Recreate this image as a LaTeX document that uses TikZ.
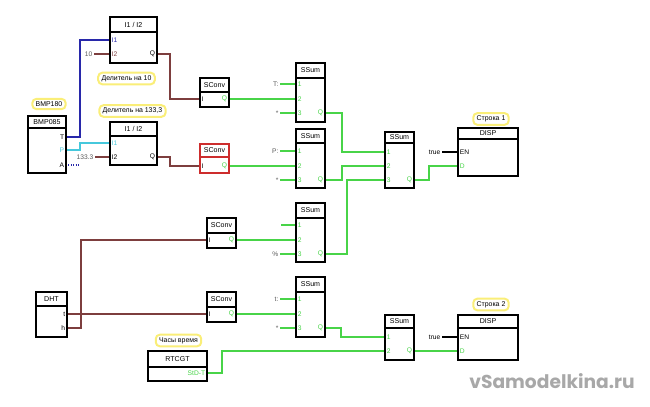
\documentclass[tikz,border=0pt]{standalone}
\usepackage{fontspec}
\setmainfont{Liberation Sans}
\newfontfamily\wmfont{Poppins}
\usetikzlibrary{fit}
\definecolor{wbrown}{RGB}{125,62,62}
\definecolor{wgreen}{RGB}{72,212,72}
\definecolor{wblue}{RGB}{40,40,170}
\definecolor{wcyan}{RGB}{70,200,220}
\definecolor{lyel}{RGB}{250,238,120}
\definecolor{bred}{RGB}{205,45,45}
\definecolor{wmgray}{RGB}{168,168,168}
\definecolor{lblgray}{RGB}{90,90,90}
\tikzset{
  blk/.style={draw, line width=1.1pt, inner sep=0pt, fill=white},
  blkline/.style={line width=1.1pt},
  ttl/.style={font=\fontsize{5.3}{6}\selectfont, text=black, inner sep=0pt},
  pinl/.style={font=\fontsize{5}{5}\selectfont, inner sep=1.2pt},
  yl/.style={draw=lyel, line width=1.5pt, rounded corners=3pt, fill=white, inner xsep=2.5pt, inner ysep=2pt, font=\fontsize{5.2}{6}\selectfont},
  brw/.style={draw=wbrown, line width=0.8pt},
  grw/.style={draw=wgreen, line width=1.3pt},
  inl/.style={font=\fontsize{5}{5}\selectfont, text=lblgray, inner sep=1pt, anchor=east},
}
\newcommand\fblk[8]{%
  \coordinate (#1-nw) at (#2,#3);
  \coordinate (#1-se) at (#4,#6);
  \node[blk, draw=#8, fit=(#1-nw)(#1-se)] (#1) {};
  \draw[blkline, draw=#8] (#2,#5) -- (#4,#5);
  \node[ttl] (#1-t) at ({(#2+#4)/2},{(#3+#5)/2}) {#7};
}
\newcommand\pinL[5]{\coordinate (#1) at (#2,#3); \node[pinl, anchor=west, text=#5] (#1-l) at (#2,#3) {#4};}
\newcommand\pinR[5]{\coordinate (#1) at (#2,#3); \node[pinl, anchor=east, text=#5] (#1-l) at (#2,#3) {#4};}
\begin{document}
\begin{tikzpicture}[x=0.75pt,y=-0.75pt]
\useasboundingbox (0,0) rectangle (650,407);

% ---------- wires (drawn first) ----------
\coordinate (bT) at (66,137);
\coordinate (bP) at (66,150);
\coordinate (bA) at (66,165);
\coordinate (d1I1) at (110,40);
\coordinate (d1I2) at (110,54);
\coordinate (d1Q) at (157,54);
\coordinate (d2I1) at (110,143);
\coordinate (d2I2) at (110,157);
\coordinate (d2Q) at (157,157);
\coordinate (c1I) at (200,99);   \coordinate (c1Q) at (229,99);
\coordinate (c2I) at (200,166);  \coordinate (c2Q) at (229,166);
\coordinate (c3I) at (207,240);  \coordinate (c3Q) at (236,240);
\coordinate (c4I) at (207,314);  \coordinate (c4Q) at (236,314);
\coordinate (s1a) at (296,84); \coordinate (s1b) at (296,99); \coordinate (s1c) at (296,113); \coordinate (s1Q) at (325,113);
\coordinate (s2a) at (296,151); \coordinate (s2b) at (296,166); \coordinate (s2c) at (296,180); \coordinate (s2Q) at (325,180);
\coordinate (s3a) at (385,152); \coordinate (s3b) at (385,166); \coordinate (s3c) at (385,180); \coordinate (s3Q) at (414,180);
\coordinate (s4a) at (296,225); \coordinate (s4b) at (296,240); \coordinate (s4c) at (296,254); \coordinate (s4Q) at (325,254);
\coordinate (s5a) at (296,299); \coordinate (s5b) at (296,314); \coordinate (s5c) at (296,328); \coordinate (s5Q) at (325,328);
\coordinate (s6a) at (385,337); \coordinate (s6b) at (385,351); \coordinate (s6Q) at (414,351);
\coordinate (hT) at (67,314); \coordinate (hH) at (67,328);
\coordinate (rQ) at (207,373);
\coordinate (p1EN) at (458,152); \coordinate (p1D) at (458,166);
\coordinate (p2EN) at (458,337); \coordinate (p2D) at (458,351);

\draw[draw=wblue, line width=1pt] (bT) -- ++(14,0) |- (d1I1);
\draw[draw=wcyan, line width=1.1pt] (bP) -- ++(14,0) |- (d2I1);
\coordinate (aend) at (80,165);
\draw[draw=wblue, line width=0.8pt, densely dotted] (bA) -- (aend);

\node[inl] (k10) at (94,54) {10};
\node[inl] (k133) at (95,157) {133.3};
\draw[brw] (k10.east) -- (d1I2);
\draw[brw] (k133.east) -- (d2I2);
\draw[brw] (d1Q) -- ++(13,0) |- (c1I);
\draw[brw] (d2Q) -- ++(13,0) |- (c2I);
\draw[brw] (hH) -- ++(14,0) |- (c3I);
\draw[brw] (hT) -- (c4I);

\draw[grw] (c1Q) -- (s1b);
\draw[grw] (c2Q) -- (s2b);
\draw[grw] (c3Q) -- (s4b);
\draw[grw] (c4Q) -- (s5b);
\draw[grw] (s1Q) -- ++(17,0) |- (s3a);
\draw[grw] (s2Q) -- ++(17,0) |- (s3b);
\draw[grw] (s4Q) -- ++(22,0) |- (s3c);
\draw[grw] (s3Q) -- ++(15,0) |- (p1D);
\draw[grw] (s5Q) -- ++(16,0) |- (s6a);
\draw[grw] (rQ) -- ++(15,0) |- (s6b);
\draw[grw] (s6Q) -- (p2D);

% input stubs
\node[inl] (k1) at (280,84) {T:};
\node[inl] (k2) at (280,113) {*};
\node[inl] (k3) at (280,151) {P:};
\node[inl] (k4) at (280,180) {*};
\coordinate (k5) at (281,225);
\node[inl] (k6) at (280,254) {\%};
\node[inl] (k7) at (280,299) {t:};
\node[inl] (k8) at (280,328) {*};
\draw[grw] (k1.east) -- (s1a);
\draw[grw] (k2.east) -- (s1c);
\draw[grw] (k3.east) -- (s2a);
\draw[grw] (k4.east) -- (s2c);
\draw[grw] (k5) -- (s4a);
\draw[grw] (k6.east) -- (s4c);
\draw[grw] (k7.east) -- (s5a);
\draw[grw] (k8.east) -- (s5c);

\node[inl, text=black] (tr1) at (442,152) {true};
\node[inl, text=black] (tr2) at (442,337) {true};
\draw[draw=black, line width=0.8pt] (tr1.east) -- (p1EN);
\draw[draw=black, line width=0.8pt] (tr2.east) -- (p2EN);

% ---------- blocks ----------
\fblk{bmp}{28}{116}{66}{128}{173}{BMP085}{black}
\pinR{bmpT}{66}{137}{T}{black}
\pinR{bmpP}{66}{150}{P}{wcyan}
\pinR{bmpA}{66}{165}{A}{black}

\fblk{div1}{110}{17}{157}{32}{63}{I1 / I2}{black}
\pinL{div1a}{110}{40}{I1}{wblue}
\pinL{div1b}{110}{54}{I2}{wbrown}
\pinR{div1q}{157}{54}{Q}{black}

\fblk{div2}{110}{122}{157}{136}{165}{I1 / I2}{black}
\pinL{div2a}{110}{143}{I1}{wcyan}
\pinL{div2b}{110}{157}{I2}{black}
\pinR{div2q}{157}{157}{Q}{black}

\fblk{sc1}{200}{78}{229}{92}{107}{SConv}{black}
\pinL{sc1i}{200}{99}{I}{black}
\pinR{sc1q}{229}{99}{Q}{wgreen}

\fblk{sc2}{200}{144}{229}{157}{173}{SConv}{bred}
\pinL{sc2i}{200}{166}{I}{black}
\pinR{sc2q}{229}{166}{Q}{wgreen}

\fblk{sc3}{207}{218}{236}{233}{248}{SConv}{black}
\pinL{sc3i}{207}{240}{I}{black}
\pinR{sc3q}{236}{240}{Q}{wgreen}

\fblk{sc4}{207}{292}{236}{307}{322}{SConv}{black}
\pinL{sc4i}{207}{314}{I}{black}
\pinR{sc4q}{236}{314}{Q}{wgreen}

\fblk{ss1}{296}{63}{325}{78}{122}{SSum}{black}
\pinL{ss1a}{296}{84}{1}{wgreen}
\pinL{ss1b}{296}{99}{2}{wgreen}
\pinL{ss1c}{296}{113}{3}{wgreen}
\pinR{ss1q}{325}{113}{Q}{wgreen}

\fblk{ss2}{296}{129}{325}{143}{188}{SSum}{black}
\pinL{ss2a}{296}{151}{1}{wgreen}
\pinL{ss2b}{296}{166}{2}{wgreen}
\pinL{ss2c}{296}{180}{3}{wgreen}
\pinR{ss2q}{325}{180}{Q}{wgreen}

\fblk{ss3}{385}{132}{414}{143}{188}{SSum}{black}
\pinL{ss3a}{385}{152}{1}{wgreen}
\pinL{ss3b}{385}{166}{2}{wgreen}
\pinL{ss3c}{385}{180}{3}{wgreen}
\pinR{ss3q}{414}{180}{Q}{wgreen}

\fblk{ss4}{296}{203}{325}{218}{262}{SSum}{black}
\pinL{ss4a}{296}{225}{1}{wgreen}
\pinL{ss4b}{296}{240}{2}{wgreen}
\pinL{ss4c}{296}{254}{3}{wgreen}
\pinR{ss4q}{325}{254}{Q}{wgreen}

\fblk{ss5}{296}{277}{325}{292}{337}{SSum}{black}
\pinL{ss5a}{296}{299}{1}{wgreen}
\pinL{ss5b}{296}{314}{2}{wgreen}
\pinL{ss5c}{296}{328}{3}{wgreen}
\pinR{ss5q}{325}{328}{Q}{wgreen}

\fblk{ss6}{385}{315}{414}{328}{360}{SSum}{black}
\pinL{ss6a}{385}{337}{1}{wgreen}
\pinL{ss6b}{385}{351}{2}{wgreen}
\pinR{ss6q}{414}{351}{Q}{wgreen}

\fblk{dht}{36}{292}{67}{306}{337}{DHT}{black}
\pinR{dhtt}{67}{314}{t}{black}
\pinR{dhth}{67}{328}{h}{black}

\fblk{rtc}{148}{351}{207}{367}{381}{RTCGT}{black}
\pinR{rtcq}{207}{373}{StD-T}{wgreen}

\fblk{disp1}{458}{128}{518}{139}{176}{DISP}{black}
\pinL{disp1en}{458}{152}{EN}{black}
\pinL{disp1d}{458}{166}{D}{wgreen}

\fblk{disp2}{458}{315}{518}{328}{360}{DISP}{black}
\pinL{disp2en}{458}{337}{EN}{black}
\pinL{disp2d}{458}{351}{D}{wgreen}

% ---------- yellow labels ----------
\node[yl] (l1) at (49,104) {BMP180};
\node[yl] (l2) at (126.5,78.5) {Делитель на 10};
\node[yl] (l3) at (132.5,111) {Делитель на 133,3};
\node[yl] (l4) at (491,119) {Строка 1};
\node[yl] (l5) at (491,304.5) {Строка 2};
\node[yl] (l6) at (178.5,340.5) {Часы время};

% watermark
\node[text=wmgray, font=\wmfont\bfseries\fontsize{14}{16}\selectfont, inner sep=0pt] (wm) at (552,381) {vSamodelkina.ru};
\end{tikzpicture}
\end{document}
